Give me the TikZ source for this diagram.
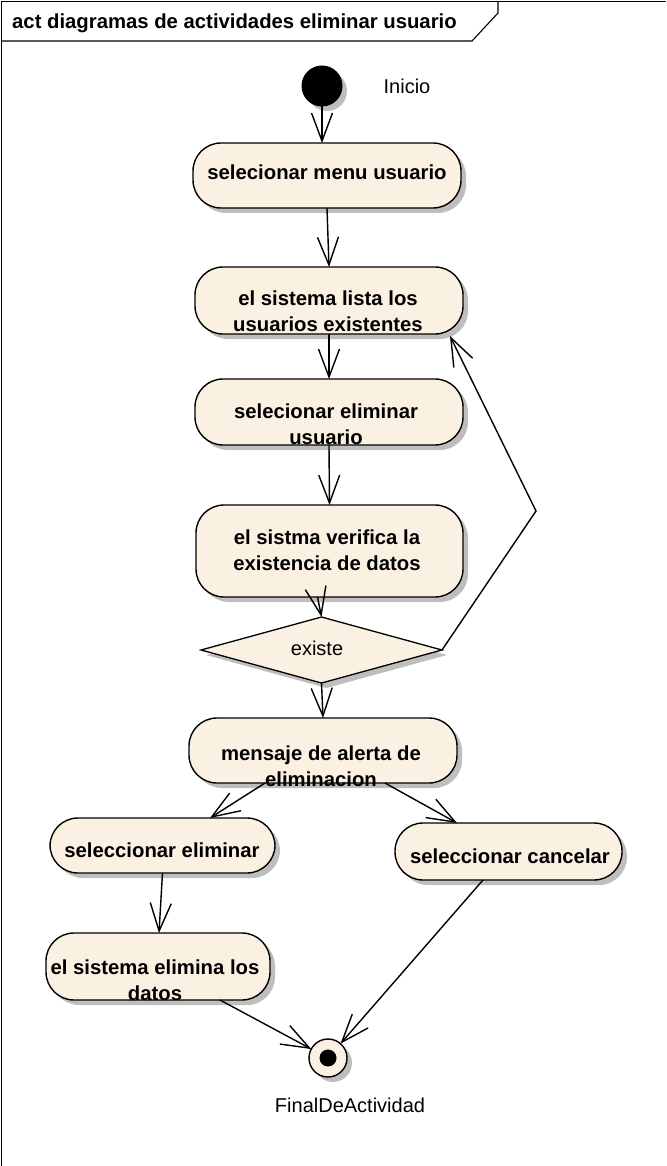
\documentclass[tikz,border=0pt]{standalone}
\usepackage{fontspec}
\setmainfont{Liberation Sans}
\usetikzlibrary{shapes.geometric,arrows.meta,shadows,calc}
\definecolor{actfill}{RGB}{251,241,226}
\definecolor{shadowgray}{RGB}{190,190,190}
\tikzset{
  shad/.style={drop shadow={shadow xshift=5pt,shadow yshift=-5pt,fill=shadowgray,opacity=1}},
  act/.style={draw,line width=1.4pt,fill=actfill,rounded corners=28pt,shad,inner sep=0pt,outer sep=0pt},
  lbl/.style={font=\bfseries\fontsize{20.3}{26}\selectfont,align=center,inner sep=0pt},
  plain/.style={font=\fontsize{20}{24}\selectfont,inner sep=0pt},
  flow/.style={line width=1.4pt,-{Straight Barb[length=28pt,width=21pt,line width=1.4pt]}},
  frame/.style={line width=1.1pt}
}
\begin{document}
\begin{tikzpicture}[x=1pt,y=-1pt]
\useasboundingbox (0,0) rectangle (666,1166);
% frame
\draw[frame] (1.5,1166) -- (1.5,1.5) -- (666,1.5);
\draw[frame] (1.5,41) -- (472,41) -- (498,13) -- (498,1.5);
\node[font=\bfseries\fontsize{20.3}{24}\selectfont,inner sep=0pt,anchor=west] (title) at (12,23) {act diagramas de actividades eliminar usuario};
% start
\node[circle,fill=black,draw,line width=1pt,minimum size=40pt,inner sep=0pt,outer sep=0pt,shad] (start) at (322,86) {};
\node[plain] (inicio) at (407,86) {Inicio};
% activities
\node[act,minimum width=268pt,minimum height=65pt] (b1) at (327,175.5) {};
\node[lbl] (t1) at (327,172) {selecionar menu usuario};
\node[act,minimum width=268pt,minimum height=67pt] (b2) at (329,300.5) {};
\node[lbl] (t2) at (328,311) {el sistema lista los\\usuarios existentes};
\node[act,minimum width=268pt,minimum height=66pt] (b3) at (329,412) {};
\node[lbl] (t3) at (326,424.5) {selecionar eliminar\\usuario};
\node[act,minimum width=267pt,minimum height=92pt] (b4) at (329.5,551) {};
\node[lbl] (t4) at (327,550) {el sistma verifica la\\existencia de datos};
\node[diamond,draw,line width=1.3pt,fill=actfill,shad,minimum width=241pt,minimum height=66pt,inner sep=0pt,outer sep=0pt] (dia) at (321.5,650) {};
\node[plain] (t9) at (317,648) {existe};
\node[act,minimum width=268pt,minimum height=65pt] (b5) at (323,750.5) {};
\node[lbl] (t5) at (321,766) {mensaje de alerta de\\eliminacion};
\node[act,minimum width=225pt,minimum height=55pt] (b6) at (162.5,845.5) {};
\node[lbl] (t6) at (162,850) {seleccionar eliminar};
\node[act,minimum width=227pt,minimum height=57pt] (b7) at (508.5,851.5) {};
\node[lbl] (t7) at (510,856) {seleccionar cancelar};
\node[act,minimum width=224pt,minimum height=67pt] (b8) at (158,966.5) {};
\node[lbl] (t8) at (155,980.5) {el sistema elimina los\\datos};
% final
\node[circle,draw,line width=1.4pt,fill=actfill,minimum size=38pt,inner sep=0pt,outer sep=0pt,shad] (fin) at (328,1058) {};
\node[circle,fill=black,minimum size=17pt,inner sep=0pt] (findot) at (fin) {};
\node[plain] (finlbl) at (350,1105) {FinalDeActividad};
% connectors
\coordinate (bend) at (536,511);
\draw[flow] (start) -- (start.south |- b1.north);
\draw[flow] (b1.south) -- (b2.north);
\draw[flow] (b2.south) -- (b3.north);
\draw[flow] (b3.south) -- (b4.north);
\draw[flow] ($(b4.south)+(-12,0)$) -- (dia.north);
\draw[flow] (dia.east) -- (bend) -- ($(b2.south east)+(-13,2)$);
\draw[flow] (dia.south) -- (b5.north);
\draw[flow] ($(b5.south)+(-58,0)$) -- ($(b6.north)+(47.5,0)$);
\draw[flow] ($(b5.south)+(62,0)$) -- ($(b7.north)+(-51.5,0)$);
\draw[flow] (b6.south) -- ($(b8.north)+(1,0)$);
\draw[flow] ($(b8.south)+(62,0)$) -- (fin);
\draw[flow] ($(b7.south)+(-25.5,0)$) -- (fin);
\end{tikzpicture}
\end{document}
